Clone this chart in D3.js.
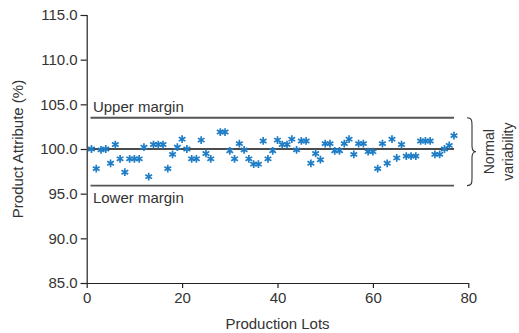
<!DOCTYPE html>
<html>
<head>
<meta charset="utf-8">
<script src="https://cdn.jsdelivr.net/npm/d3@7"></script>
<style>
  html, body { margin: 0; padding: 0; background: #fff; }
  svg text { font-family: "Liberation Sans", Arial, sans-serif; fill: #333; }
</style>
</head>
<body>
<svg id="chart" width="519" height="333"></svg>
<script>
// ---- data ----
const lots = [1,2,3,4,5,6,7,8,9,10,11,12,13,14,15,16,17,18,19,20,21,22,23,24,25,26,
              28,29,30,31,32,33,34,35,36,37,38,39,40,41,42,43,44,45,46,47,48,49,50,
              51,52,53,54,55,56,57,58,59,60,61,62,63,64,65,66,67,68,69,70,71,72,73,74,75,76,77];
const values = [100.0,97.8,99.9,100.0,98.4,100.5,98.9,97.4,98.9,98.9,98.9,100.2,96.9,100.5,100.5,100.5,
                97.8,99.4,100.2,101.1,100.0,98.9,98.9,101.0,99.5,98.9,
                101.9,101.9,99.8,98.9,100.6,99.9,98.9,98.3,98.3,100.9,98.9,99.8,101.0,100.5,100.5,
                101.1,99.9,100.9,100.9,98.4,99.5,98.8,100.6,100.6,99.8,99.8,100.6,101.1,99.4,
                100.6,100.6,99.7,99.7,97.8,100.6,98.4,101.1,99.0,100.5,99.2,99.2,99.2,
                100.9,100.9,100.9,99.4,99.4,100.0,100.4,101.5];
const yTicks = [85, 90, 95, 100, 105, 110, 115];
const xTicks = [0, 20, 40, 60, 80];
const targetValue = 100;
const upperMargin = 103.5;
const lowerMargin = 95.9;
const labels = { upper: "Upper margin", lower: "Lower margin",
                 x: "Production Lots", y: "Product Attribute (%)",
                 band: ["Normal", "variability"] };

// ---- layout ----
const svg = d3.select("#chart");
const x = d3.scaleLinear().domain([0, 80]).range([86.7, 468.3]);
const y = d3.scaleLinear().domain([85, 115]).range([283, 15]);
const axisColor = "#222";

// y axis
const gy = svg.append("g").attr("transform", `translate(${x(0)},0)`)
  .call(d3.axisLeft(y).tickValues(yTicks).tickFormat(d3.format(".1f")).tickSize(6).tickPadding(3));
gy.selectAll("text").style("font-size", "15px");
gy.selectAll("path,line").attr("stroke", axisColor).attr("stroke-width", 1.2);

// x axis
const gx = svg.append("g").attr("transform", `translate(0,${y(85)})`)
  .call(d3.axisBottom(x).tickValues(xTicks).tickSize(5).tickPadding(4).tickSizeOuter(0));
gx.selectAll("text").style("font-size", "15px");
gx.selectAll("path,line").attr("stroke", axisColor).attr("stroke-width", 1.2);

// reference lines
svg.append("line")
  .attr("x1", x(0.3)).attr("x2", x(77)).attr("y1", y(targetValue)).attr("y2", y(targetValue))
  .attr("stroke", "#111").attr("stroke-width", 1.5);
[upperMargin, lowerMargin].forEach(v => {
  svg.append("line")
    .attr("x1", x(0.8)).attr("x2", x(77)).attr("y1", y(v)).attr("y2", y(v))
    .attr("stroke", "#555").attr("stroke-width", 1.8);
});

// margin labels
svg.append("text").attr("x", x(1.3)).attr("y", y(upperMargin) - 6)
  .style("font-size", "15px").text(labels.upper);
svg.append("text").attr("x", x(1.3)).attr("y", y(lowerMargin) + 17)
  .style("font-size", "15px").text(labels.lower);

// points
const sym = d3.symbol().type(d3.symbolAsterisk).size(42);
svg.append("g").selectAll("path").data(lots.map((l, i) => [l, values[i]]))
  .join("path")
  .attr("transform", d => `translate(${x(d[0])},${y(d[1])})`)
  .attr("d", sym)
  .attr("fill", "none")
  .attr("stroke", "#1f7dc6")
  .attr("stroke-width", 1.7);

// brace
const bx = 467, yt = y(upperMargin), yb = y(lowerMargin), ym = (yt + yb) / 2;
const brace = `M${bx},${yt} C${bx+5},${yt} ${bx+5},${yt+3} ${bx+5},${yt+8}
  L${bx+5},${ym-6} C${bx+5},${ym-2} ${bx+7},${ym} ${bx+9},${ym}
  C${bx+7},${ym} ${bx+5},${ym+2} ${bx+5},${ym+6}
  L${bx+5},${yb-8} C${bx+5},${yb-3} ${bx+5},${yb} ${bx},${yb}`;
svg.append("path").attr("d", brace).attr("fill", "none").attr("stroke", "#333").attr("stroke-width", 1.1);

// band label
svg.append("text").attr("transform", `translate(494,${ym}) rotate(-90)`)
  .attr("text-anchor", "middle").style("font-size", "14px").text(labels.band[0]);
svg.append("text").attr("transform", `translate(513,${ym}) rotate(-90)`)
  .attr("text-anchor", "middle").style("font-size", "14px").text(labels.band[1]);

// axis titles
svg.append("text").attr("x", (x(0) + x(80)) / 2).attr("y", 329)
  .attr("text-anchor", "middle").style("font-size", "15px").text(labels.x);
svg.append("text").attr("transform", `translate(23,${y(100)}) rotate(-90)`)
  .attr("text-anchor", "middle").style("font-size", "15px").text(labels.y);
</script>
</body>
</html>
